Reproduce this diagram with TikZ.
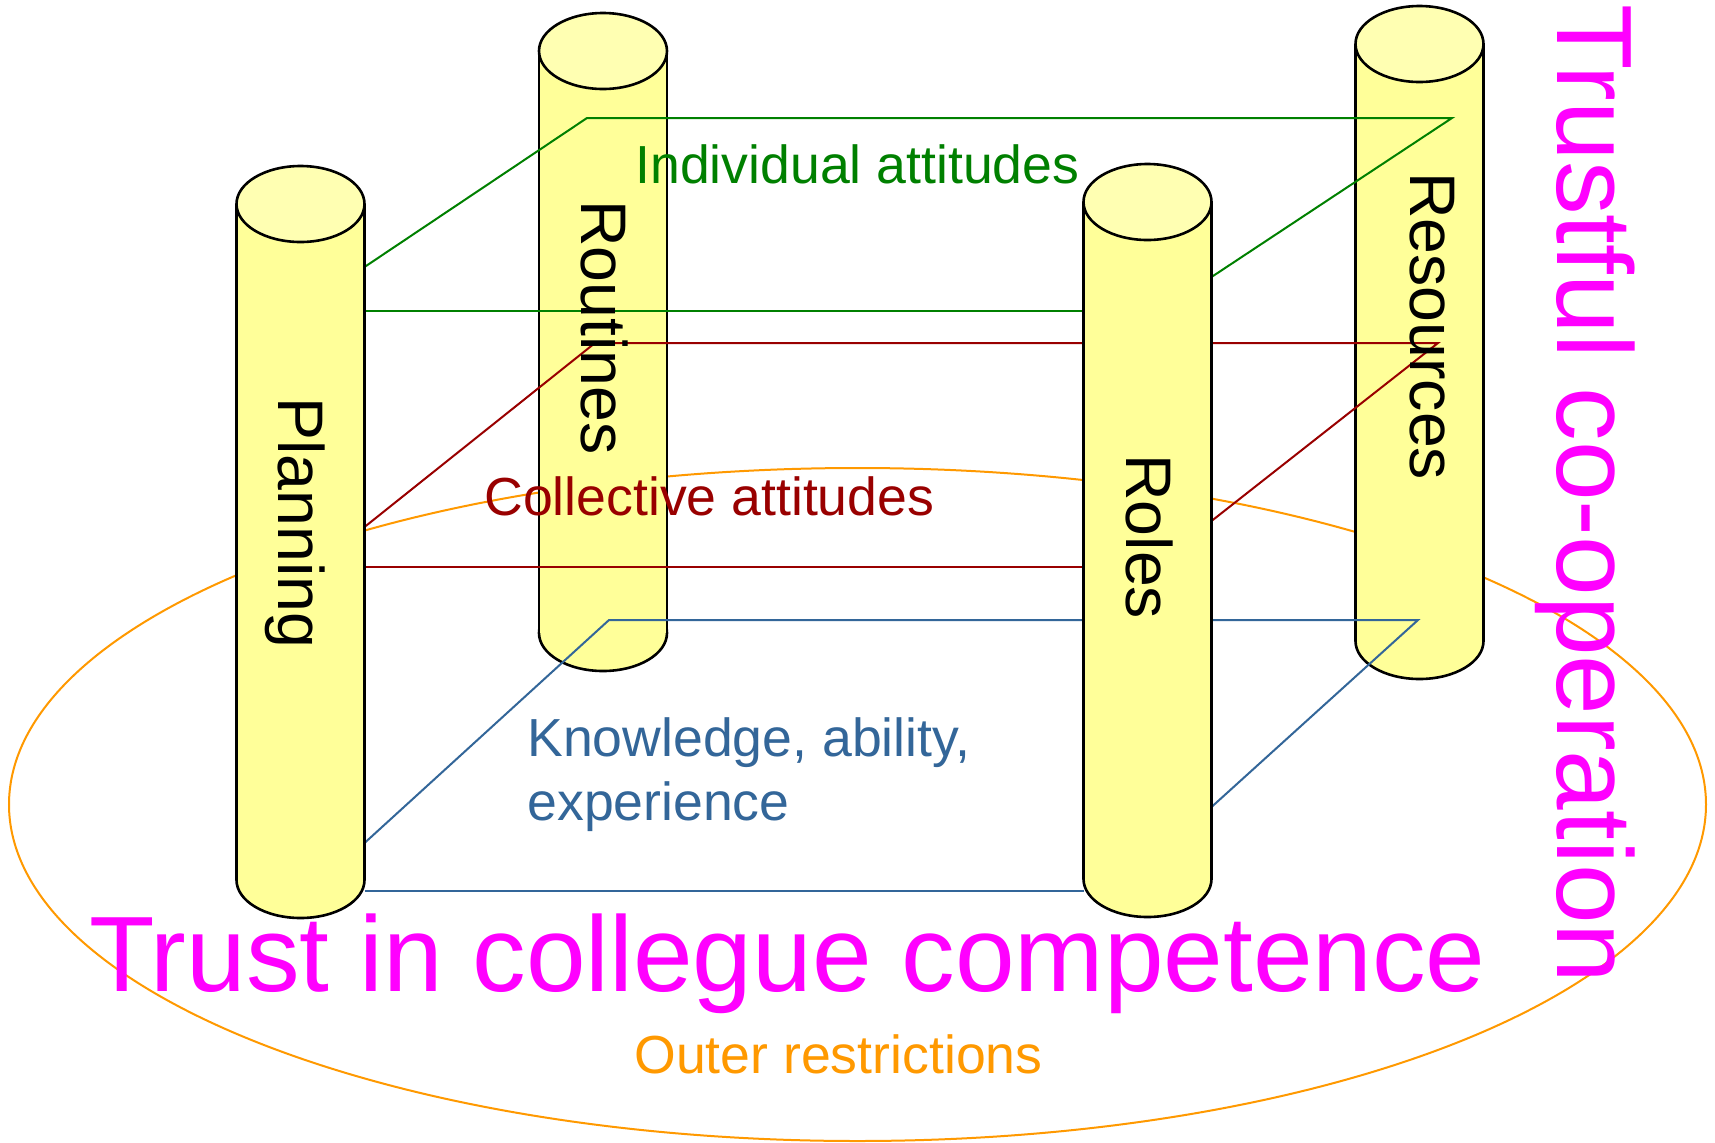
\documentclass[tikz,border=0pt]{standalone}
\usepackage{fontspec}
\setmainfont{Liberation Sans}
\definecolor{cylbody}{RGB}{255,255,153}
\definecolor{cyltop}{RGB}{255,255,178}
\definecolor{attgreen}{RGB}{0,128,0}
\definecolor{attred}{RGB}{153,0,0}
\definecolor{attblue}{RGB}{51,102,153}
\definecolor{outercol}{RGB}{255,153,0}
\definecolor{trustcol}{RGB}{255,0,255}
\newcommand{\drawpillar}[3]{%
  \path[fill=cylbody,cyledge] (#1,#3) ellipse[x radius=32pt, y radius=19pt];
  \path[fill=cylbody] (#1-64,#2) rectangle (#1+64,#3);
  \draw[cyledge] (#1-64,#2) -- (#1-64,#3) (#1+64,#2) -- (#1+64,#3);
  \path[fill=cyltop,cyledge] (#1,#2) ellipse[x radius=32pt, y radius=19pt];
}
\begin{document}
\begin{tikzpicture}[x=0.5pt,y=-0.5pt,
  cyledge/.style={draw=black,line width=1.3pt},
  link/.style={line width=1pt},
  cyllabel/.style={font=\fontsize{32.2}{38}\selectfont, rotate=-90, anchor=base west, inner sep=0pt},
  attlabel/.style={font=\fontsize{26.8}{32}\selectfont, anchor=base west, inner sep=0pt},
  biglabel/.style={font=\fontsize{53.6}{64}\selectfont, text=trustcol, anchor=base west, inner sep=0pt}]
\useasboundingbox (0,0) rectangle (1715,1142);
\fill[white] (0,0) rectangle (1715,1142);

% outer restrictions ellipse
\draw[outercol, line width=1pt] (857.5,804.5) ellipse[x radius=424.25pt, y radius=168.25pt];

% back pillars
\drawpillar{603}{51}{633}
\drawpillar{1419.5}{44}{641}

% connector end points
\coordinate (gPl) at (364.5,267);
\coordinate (gBl) at (587,118);
\coordinate (gBr) at (1452,118);
\coordinate (gRo) at (1211.5,277);
\coordinate (gPf) at (364.5,311);
\coordinate (gRf) at (1083.5,311);
\coordinate (rPl) at (364.5,527);
\coordinate (rBl) at (595,343);
\coordinate (rBr) at (1438,343);
\coordinate (rRo) at (1211.5,521);
\coordinate (rPf) at (364.5,567);
\coordinate (rRf) at (1083.5,567);
\coordinate (bPl) at (364.5,843);
\coordinate (bBl) at (609,620);
\coordinate (bBr) at (1418,620);
\coordinate (bRo) at (1211.5,807);
\coordinate (bPf) at (364.5,891);
\coordinate (bRf) at (1083.5,891);

\draw[link, attgreen] (gPl) -- (gBl) -- (gBr) -- (gRo);
\draw[link, attgreen] (gPf) -- (gRf);
\draw[link, attred] (rPl) -- (rBl) -- (rBr) -- (rRo);
\draw[link, attred] (rPf) -- (rRf);
\draw[link, attblue] (bPl) -- (bBl) -- (bBr) -- (bRo);
\draw[link, attblue] (bPf) -- (bRf);

% front pillars
\drawpillar{300.5}{204}{880}
\drawpillar{1147.5}{202}{879}

% pillar labels
\node[cyllabel] (lplanning) at (278,397) {Planning};
\node[cyllabel] (lroutines) at (581,200) {Routines};
\node[cyllabel] (lroles) at (1126.5,454) {Roles};
\node[cyllabel] (lresources) at (1410,172) {Resources};

% attitude labels
\node[attlabel, text=attgreen] (indiv) at (635,183) {Individual attitudes};
\node[attlabel, text=attred] (coll) at (484,515) {Collective attitudes};
\node[attlabel, text=attblue] (know1) at (527,756) {Knowledge, ability,};
\node[attlabel, text=attblue] (know2) at (527,820) {experience};
\node[attlabel, text=outercol] (outerr) at (634,1073) {Outer restrictions};

% big labels
\node[biglabel] (trustcomp) at (89,991) {Trust in collegue competence};
\node[biglabel, rotate=-90] (trustcoop) at (1557,4) {Trustful co-operation};
\end{tikzpicture}
\end{document}
